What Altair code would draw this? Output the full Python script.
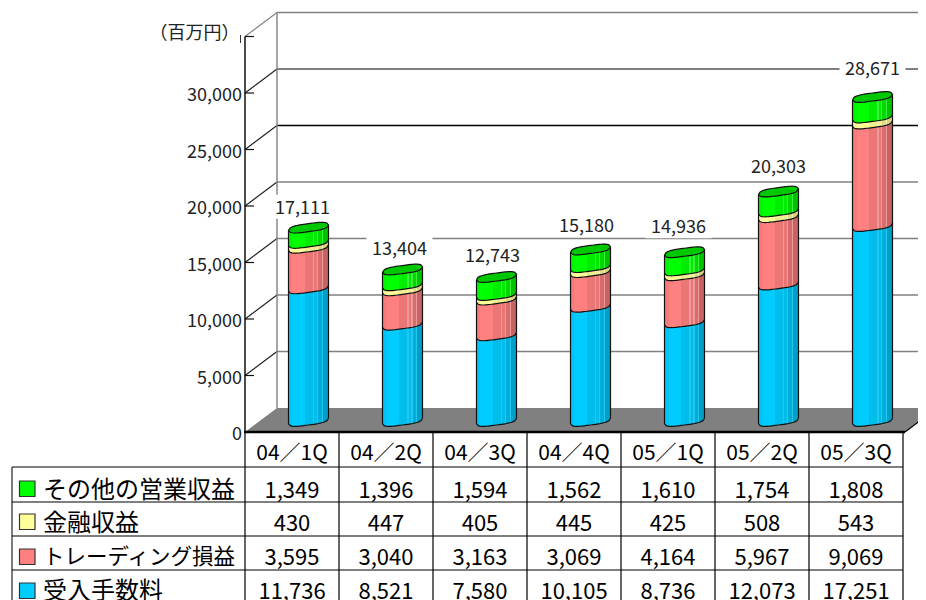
import math
import altair as alt
import pandas as pd

# ---- data ----
periods = ["04／1Q", "04／2Q", "04／3Q", "04／4Q", "05／1Q", "05／2Q", "05／3Q"]
fees = [11736, 8521, 7580, 10105, 8736, 12073, 17251]
trading = [3595, 3040, 3163, 3069, 4164, 5967, 9069]
financial = [430, 447, 405, 445, 425, 508, 543]
other = [1349, 1396, 1594, 1562, 1610, 1754, 1808]
totals = [17111, 13404, 12743, 15180, 14936, 20303, 28671]
series_names = ["その他の営業収益", "金融収益", "トレーディング損益", "受入手数料"]
axis_values = [0, 5000, 10000, 15000, 20000, 25000, 30000]
grid_values = [0, 5000, 10000, 15000, 20000, 25000, 30000, 35000]

# ---- layout of the reference (pixels in the 926x600 frame) ----
K = 0.0113            # px per unit on the value axis
COL = 94.0            # px per category
X0, Y0 = 245.0, 432.0
DX, DY = 32.0, 24.0   # depth offset of the back wall
FONT = "Noto Sans CJK JP"


def ux(px):
    return (px - X0) / COL


def vy(py):
    return (Y0 - py) / K


xs = alt.Scale(domain=[ux(8), ux(918)], range=[0, 910], nice=False, zero=False)
ys = alt.Scale(domain=[vy(600), vy(8)], range=[592, 0], nice=False, zero=False)


def X(f="x"):
    return alt.X(f"{f}:Q", scale=xs, axis=None)


def Y(f="y"):
    return alt.Y(f"{f}:Q", scale=ys, axis=None)


def band(c_left, c_mid, c_dark, c_light):
    """stepped horizontal shading of a cylinder side"""
    st = [
        (0.00, c_left), (0.10, c_left), (0.10, c_mid[0]), (0.42, c_mid[0]),
        (0.42, c_mid[1]), (0.62, c_mid[1]), (0.62, c_light), (0.65, c_light),
        (0.65, c_mid[1]), (0.72, c_mid[1]), (0.72, c_light), (0.75, c_light),
        (0.75, c_dark[0]), (0.84, c_dark[0]), (0.84, c_light), (0.87, c_light),
        (0.87, c_dark[1]), (1.00, c_dark[1]),
    ]
    return alt.Gradient(
        gradient="linear", x1=0, x2=1, y1=0, y2=0,
        stops=[alt.GradientStop(offset=o, color=c) for o, c in st],
    )


SHADES = {
    "blue": band("#00c4f6", ("#00ccff", "#00bdec"), ("#00aed9", "#009fc7"), "#22c6ee"),
    "red": band("#f57b7b", ("#ff8080", "#ea7676"), ("#d66c6c", "#c66464"), "#ee9a9a"),
    "yellow": band("#f5f5a0", ("#ffff99", "#f0ee90"), ("#e0dc86", "#d6d080"), "#f5f2b0"),
    "green": band("#00f500", ("#00ff00", "#00ec00"), ("#00d800", "#00c400"), "#40f040"),
}

BASE_PY = 421.0
R = 20.0
SLOPE = 2.7
BULGE = 4.0
NT = 25
ts = [-1 + 2 * i / (NT - 1) for i in range(NT)]


def cx(i):
    return X0 + COL * (i + 0.5) + DX / 2 + 0.5


def curve(t, sign):
    # oblique, slightly squared ellipse: px below the centre point
    return -SLOPE * t + sign * BULGE * math.sqrt(max(0.0, 1 - t ** 4))


def val_to_py(v):
    return BASE_PY - K * v


side_rows = {k: [] for k in SHADES}
line_rows = []
edge_rows = []
cap_rows = []
for i in range(len(periods)):
    b = 0
    stack = [("blue", fees[i]), ("red", trading[i]), ("yellow", financial[i]), ("green", other[i])]
    for name, val in stack:
        top = b + val
        for t in ts:
            off = curve(t, 1)
            side_rows[name].append({
                "bar": i, "x": ux(cx(i) + R * t),
                "y": vy(val_to_py(b) + off),
                "y2": vy(val_to_py(top) + off),
            })
            line_rows.append({"id": f"{i}-{name}", "o": t,
                              "x": ux(cx(i) + R * t), "y": vy(val_to_py(b) + off)})
        b = top
    # outer side edges
    for t in (-1, 1):
        off = curve(t, 1)
        edge_rows.append({"x": ux(cx(i) + R * t), "x2": ux(cx(i) + R * t),
                          "y": vy(val_to_py(0) + off), "y2": vy(val_to_py(b) + off),
                          "c": "#111111", "w": 1.2})
    # top cap
    for t in ts:
        cap_rows.append({"bar": i, "x": ux(cx(i) + R * t),
                         "y": vy(val_to_py(b) + curve(t, 1)),
                         "y2": vy(val_to_py(b) + curve(t, -1))})
    for j, t in enumerate(ts + ts[::-1]):
        sign = 1 if j < NT else -1
        line_rows.append({"id": f"{i}-cap", "o": j, "x": ux(cx(i) + R * t),
                          "y": vy(val_to_py(b) + curve(t, sign))})

layers = []

# ---- walls, floor and grid ----
GREY = "#808080"
rules = []
for v in grid_values:
    py_f = Y0 - K * v
    py_b = py_f - DY
    back_col = "#000000" if v == 25000 else ("#555555" if v == 30000 else GREY)
    if v > 0:
        rules.append({"x": ux(X0 + DX), "x2": ux(926), "y": vy(py_b), "y2": vy(py_b), "c": back_col, "w": 1.4})
        rules.append({"x": ux(X0), "x2": ux(X0 + DX), "y": vy(py_f), "y2": vy(py_b),
                      "c": GREY if v == 35000 else "#222222", "w": 1.2})
        rules.append({"x": ux(X0), "x2": ux(X0 + 9), "y": vy(py_f), "y2": vy(py_f), "c": "#111111", "w": 1.2})
rules.append({"x": ux(X0 + DX), "x2": ux(X0 + DX), "y": vy(Y0 - K * 35000 - DY), "y2": vy(Y0 - DY), "c": GREY, "w": 1.4})
rules.append({"x": ux(X0), "x2": ux(X0), "y": vy(Y0 - K * 35000), "y2": vy(Y0), "c": "#000000", "w": 1.4})
rules.append({"x": ux(240.5), "x2": ux(240.5), "y": vy(35), "y2": vy(43), "c": "#333333", "w": 1})

floor = pd.DataFrame({
    "x": [ux(X0), ux(X0 + DX), ux(X0 + COL * 7 + 2), ux(X0 + COL * 7 + 2 + DX)],
    "y": [vy(Y0), vy(Y0 - DY), vy(Y0 - DY), vy(Y0 - DY)],
    "y2": [vy(Y0), vy(Y0), vy(Y0), vy(Y0 - DY)],
})
layers.append(
    alt.Chart(floor).mark_area(color=GREY, orient="vertical").encode(x=X(), y=Y(), y2="y2:Q")
)
layers.append(
    alt.Chart(pd.DataFrame(rules)).mark_rule().encode(
        x=X(), x2="x2:Q", y=Y(), y2="y2:Q",
        color=alt.Color("c:N", scale=None),
        strokeWidth=alt.StrokeWidth("w:Q", scale=None))
)

# ---- value axis labels ----
axis_df = pd.DataFrame({
    "x": [ux(242)] * len(axis_values),
    "y": [vy(Y0 - K * v + 1) for v in axis_values],
    "t": [f"{v:,}" for v in axis_values],
})
layers.append(
    alt.Chart(axis_df).mark_text(font=FONT, fontSize=18, color="#222222", align="right", dy=2).encode(
        x=X(), y=Y(), text="t:N")
)

# ---- white boxes behind the total labels, then the labels ----
label_dx = [-6, -3, -4, -4, -6, 0, 0]
label_dy = [-21, -22, -22, -24.5, -26, -25.5, -29]
lab = []
for i, tot in enumerate(totals):
    px = cx(i) + label_dx[i]
    py = val_to_py(tot) + label_dy[i]
    lab.append({"x": ux(px), "y": vy(py), "x1": ux(px - 33), "x2": ux(px + 33),
                "y1": vy(py - 12), "y2": vy(py + 12), "t": f"{tot:,}"})
lab_df = pd.DataFrame(lab)
layers.append(
    alt.Chart(lab_df).mark_rect(color="#ffffff").encode(
        x=X("x1"), x2="x2:Q", y=Y("y1"), y2="y2:Q")
)

# ---- cylinders ----
for name in ["blue", "red", "yellow", "green"]:
    layers.append(
        alt.Chart(pd.DataFrame(side_rows[name])).mark_area(
            color=SHADES[name], orient="vertical", interpolate="linear"
        ).encode(x=X(), y=Y(), y2="y2:Q", detail="bar:N")
    )
layers.append(
    alt.Chart(pd.DataFrame(cap_rows)).mark_area(color="#00c800", orient="vertical").encode(
        x=X(), y=Y(), y2="y2:Q", detail="bar:N")
)
layers.append(
    alt.Chart(pd.DataFrame(edge_rows)).mark_rule().encode(
        x=X(), x2="x2:Q", y=Y(), y2="y2:Q",
        color=alt.Color("c:N", scale=None),
        strokeWidth=alt.StrokeWidth("w:Q", scale=None))
)
layers.append(
    alt.Chart(pd.DataFrame(line_rows)).mark_line(color="#111111", strokeWidth=1.2).encode(
        x=X(), y=Y(), detail="id:N", order="o:Q")
)
layers.append(
    alt.Chart(lab_df).mark_text(font=FONT, fontSize=18, color="#222222", dy=2).encode(
        x=X(), y=Y(), text="t:N")
)

# ---- unit caption ----
layers.append(
    alt.Chart(pd.DataFrame({"x": [ux(194.5)], "y": [vy(33)], "t": ["（百万円）"]})).mark_text(
        font=FONT, fontSize=18, color="#222222", dy=1).encode(x=X(), y=Y(), text="t:N")
)

# ---- data table ----
ROW_LINES = [467, 502, 536, 570, 605]
ROW_MID = [489, 522, 556, 590]
HEAD_MID = 452
TABLE_LEFT = 12
swatch_colors = ["#00ff00", "#ffff99", "#ff8080", "#00ccff"]
swatch_top = [481, 514, 549, 583]

table_rules = [
    {"x": ux(X0 - 1), "x2": ux(X0 + COL * 7 + 2), "y": vy(Y0), "y2": vy(Y0), "c": "#000000", "w": 2.6},
    {"x": ux(X0 + COL * 7 + 2), "x2": ux(X0 + COL * 7 + 2 + DX), "y": vy(Y0), "y2": vy(Y0 - DY), "c": "#000000", "w": 1.2},
    {"x": ux(TABLE_LEFT), "x2": ux(TABLE_LEFT), "y": vy(467), "y2": vy(600), "c": "#444444", "w": 1.4},
]
for r in ROW_LINES[:-1]:
    table_rules.append({"x": ux(TABLE_LEFT), "x2": ux(X0 + COL * 7), "y": vy(r), "y2": vy(r), "c": "#000000", "w": 1.2})
for c in range(8):
    table_rules.append({"x": c, "x2": c, "y": vy(Y0), "y2": vy(600), "c": "#000000", "w": 1.2})
layers.append(
    alt.Chart(pd.DataFrame(table_rules)).mark_rule().encode(
        x=X(), x2="x2:Q", y=Y(), y2="y2:Q",
        color=alt.Color("c:N", scale=None),
        strokeWidth=alt.StrokeWidth("w:Q", scale=None))
)

cells = []
for i, p in enumerate(periods):
    cells.append({"x": i + 0.5, "y": vy(HEAD_MID), "t": p, "s": 21})
    for row, col in enumerate([other, financial, trading, fees]):
        cells.append({"x": i + 0.5, "y": vy(ROW_MID[row]), "t": f"{col[i]:,}", "s": 22})
layers.append(
    alt.Chart(pd.DataFrame(cells)).mark_text(font=FONT, color="#000000", dy=1.5).encode(
        x=X(), y=Y(), text="t:N", size=alt.Size("s:Q", scale=None))
)

names = pd.DataFrame({
    "x": [ux(43)] * 4,
    "y": [vy(m) for m in ROW_MID],
    "t": series_names,
    "s": [24, 24, 21.5, 24],
})
layers.append(
    alt.Chart(names).mark_text(font=FONT, color="#000000", align="left", dy=1.5).encode(
        x=X(), y=Y(), text="t:N", size=alt.Size("s:Q", scale=None))
)

swatches = pd.DataFrame({
    "x": [ux(19.5)] * 4, "x2": [ux(35)] * 4,
    "y": [vy(t) for t in swatch_top], "y2": [vy(t + 15.5) for t in swatch_top],
    "c": swatch_colors,
})
layers.append(
    alt.Chart(swatches).mark_rect(stroke="#333333", strokeWidth=1.2).encode(
        x=X(), x2="x2:Q", y=Y(), y2="y2:Q", fill=alt.Fill("c:N", scale=None))
)

chart = alt.layer(*layers).properties(
    width=910, height=592, padding=0, autosize=alt.AutoSizeParams(type="none"),
    background="#ffffff",
).configure_view(stroke=None)

chart.save("out.html", embed_options={"renderer": "svg", "actions": False})
